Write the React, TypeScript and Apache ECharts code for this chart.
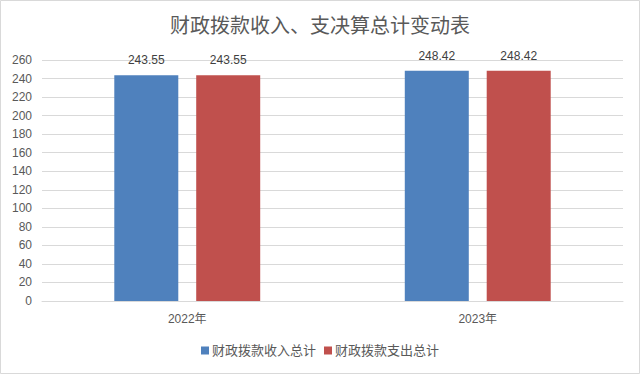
import React, { useEffect, useRef } from "react";
import * as echarts from "echarts";

const categories = ["2022年", "2023年"];
const incomeTotals = [243.55, 248.42];
const expenseTotals = [243.55, 248.42];
const seriesNames = ["财政拨款收入总计", "财政拨款支出总计"];
const titleText = "财政拨款收入、支决算总计变动表";

const FONT = "'Liberation Sans', 'Noto Sans CJK SC', sans-serif";

export default function App() {
  const ref = useRef<HTMLDivElement>(null);
  useEffect(() => {
    if (!ref.current) return;
    const chart = echarts.init(ref.current, undefined, { renderer: "svg" });
    chart.setOption({
      animation: false,
      backgroundColor: "#ffffff",
      textStyle: { fontFamily: FONT },
      title: {
        text: titleText,
        left: "center",
        top: 11,
        textStyle: { fontSize: 20, fontWeight: "normal", color: "#595959", fontFamily: FONT },
      },
      graphic: [
        {
          type: "rect",
          shape: { x: 0.5, y: 0.5, width: 639, height: 373 },
          style: { fill: "none", stroke: "#d9d9d9", lineWidth: 1 },
          silent: true,
        },
      ],
      legend: {
        bottom: 12,
        left: "center",
        itemWidth: 8,
        itemHeight: 8,
        itemGap: 8,
        icon: "rect",
        textStyle: { fontSize: 13, color: "#595959", fontFamily: FONT, padding: [0, 0, 0, -2] },
        data: seriesNames,
      },
      grid: { left: 42, right: 17, top: 60, bottom: 73, containLabel: false },
      xAxis: {
        type: "category",
        data: categories,
        axisLine: { lineStyle: { color: "#d9d9d9" } },
        axisTick: { show: false },
        axisLabel: { color: "#595959", fontSize: 12, margin: 12, fontFamily: FONT },
      },
      yAxis: {
        type: "value",
        min: 0,
        max: 260,
        interval: 20,
        axisLine: { show: false },
        axisTick: { show: false },
        axisLabel: { color: "#595959", fontSize: 12, margin: 10, fontFamily: FONT },
        splitLine: { lineStyle: { color: "#d9d9d9" } },
      },
      series: [
        {
          name: seriesNames[0],
          type: "bar",
          data: incomeTotals,
          barWidth: 64,
          barGap: "28%",
          itemStyle: { color: "#4f81bd" },
          label: { show: true, position: "top", distance: 9, color: "#404040", fontSize: 12, fontFamily: FONT },
        },
        {
          name: seriesNames[1],
          type: "bar",
          data: expenseTotals,
          barWidth: 64,
          barGap: "28%",
          itemStyle: { color: "#c0504d" },
          label: { show: true, position: "top", distance: 9, color: "#404040", fontSize: 12, fontFamily: FONT },
        },
      ],
    });
    return () => chart.dispose();
  }, []);
  return (
    <div
      ref={ref}
      style={{ position: "fixed", left: 0, top: 0, width: 640, height: 374 }}
    />
  );
}
